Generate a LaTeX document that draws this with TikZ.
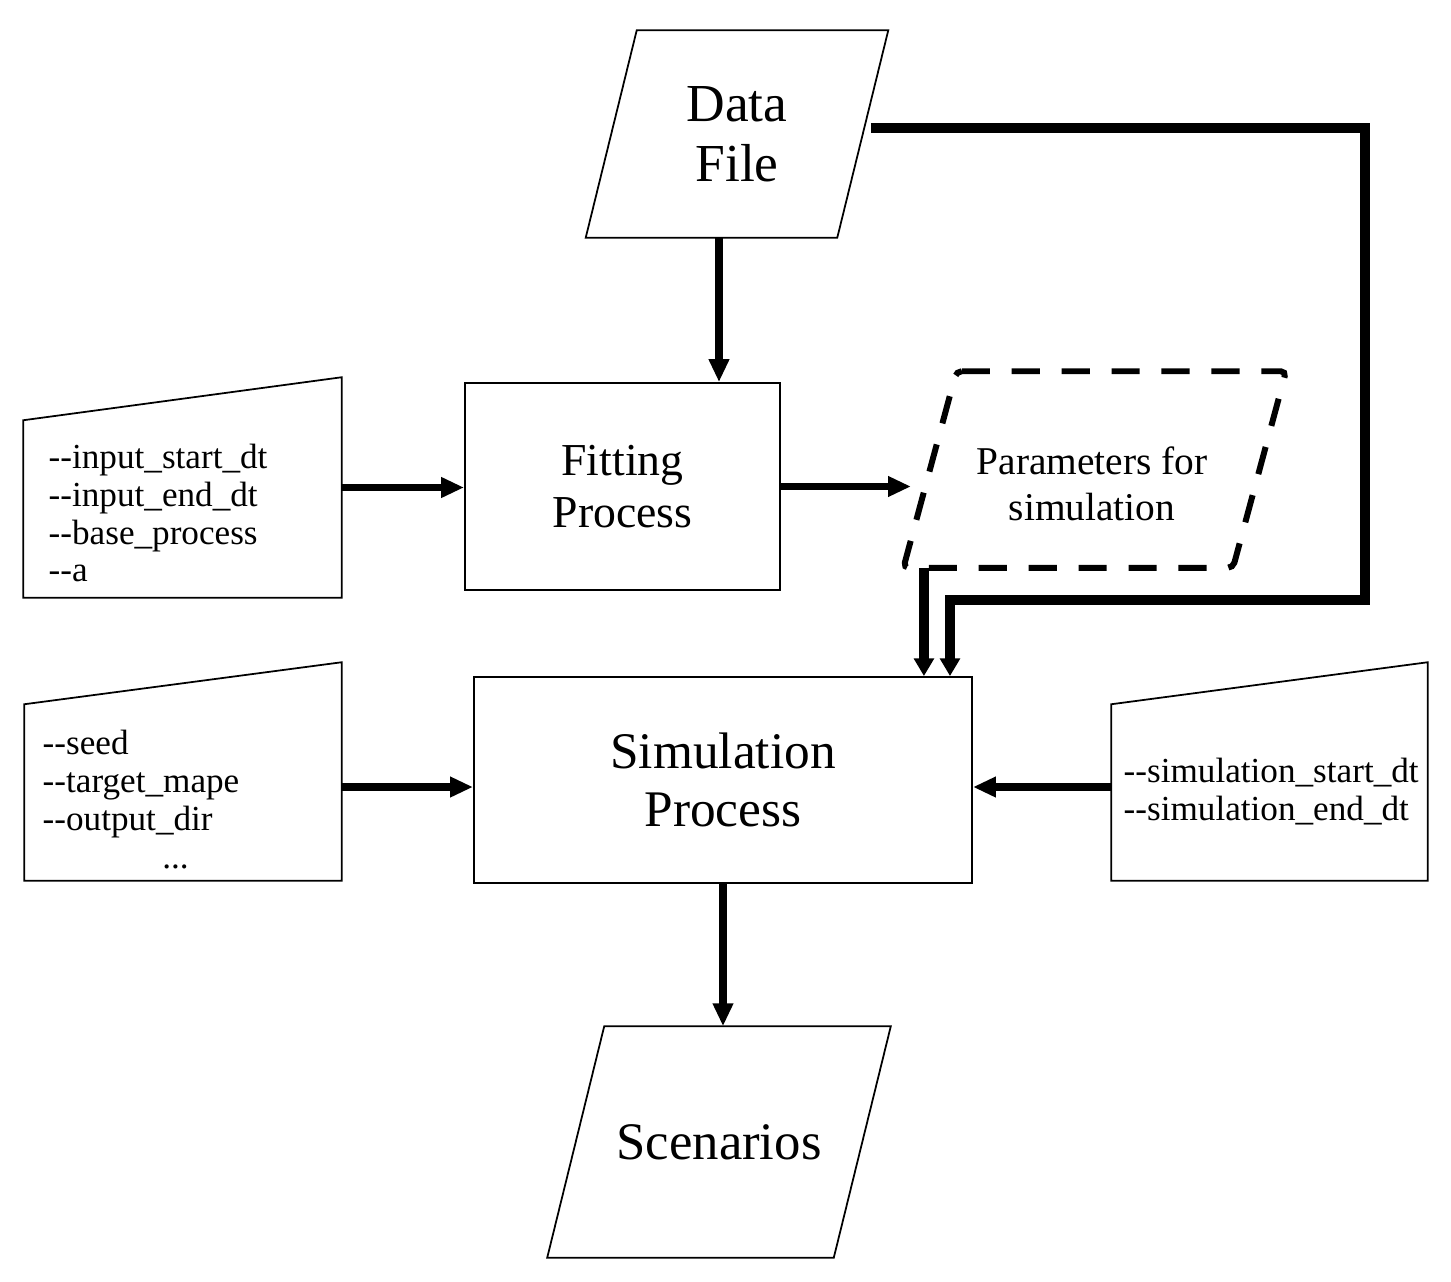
\documentclass[tikz,border=0pt]{standalone}
\usepackage{fontspec}
\setmainfont{Liberation Serif}
\usetikzlibrary{shapes.geometric,arrows.meta,positioning,calc}

% two plain hyphens, no en-dash ligature
\newcommand{\cliopt}[1]{-\kern0pt-#1}

\tikzset{
  process/.style={draw, line width=0.5pt, rectangle, align=center},
  dataframe/.style={rectangle, inner sep=0pt, align=center},
  dataline/.style={line width=0.5pt},
  paramline/.style={line width=1.7pt, dash pattern=on 8pt off 6.2pt, rounded corners=1.5pt},
  argsframe/.style={rectangle, inner sep=0pt},
  argtext/.style={font=\fontsize{10}{10.8}\selectfont, align=left, inner sep=0pt},
  flow/.style={line width=2pt, -{Triangle[length=6.5pt,width=5.5pt]}},
  bus/.style={line width=2.6pt, -{Triangle[length=5pt,width=5.5pt]}},
}

\begin{document}
\begin{tikzpicture}[x=0.01cm, y=-0.01cm]
\useasboundingbox (0,0) rectangle (1451,1282);

% main blocks
\node[dataframe, minimum width=2.5cm, minimum height=2.06cm,
      font=\fontsize{15.2}{17}\selectfont] (datafile) at (737,134) {Data\\File};
\draw[dataline] ([xshift=0.255cm]datafile.north west) -- ([xshift=0.255cm]datafile.north east)
     -- ([xshift=-0.255cm]datafile.south east) -- ([xshift=-0.255cm]datafile.south west) -- cycle;

\node[process, minimum width=3.15cm, minimum height=2.07cm,
      font=\fontsize{13}{14.8}\selectfont] (fitting) at (622.5,486.5) {Fitting\\Process};

\node[dataframe, minimum width=3.28cm, minimum height=1.95cm] (params) at (1094.75,469.5) {};
\draw[paramline] ([xshift=0.265cm]params.north west) -- ([xshift=0.265cm]params.north east)
     -- ([xshift=-0.265cm]params.south east) -- ([xshift=-0.265cm]params.south west) -- cycle;
\node[font=\fontsize{11.2}{13}\selectfont, align=center] (paramstext) at (1092,484)
     {Parameters for\\simulation};

\node[process, minimum width=4.98cm, minimum height=2.06cm,
      font=\fontsize{14.6}{16.5}\selectfont] (simulation) at (723,780) {Simulation\\Process};

\node[dataframe, minimum width=2.85cm, minimum height=2.3cm,
      font=\fontsize{15}{17}\selectfont] (scenarios) at (719,1142) {Scenarios};
\draw[dataline] ([xshift=0.285cm]scenarios.north west) -- ([xshift=0.285cm]scenarios.north east)
     -- ([xshift=-0.285cm]scenarios.south east) -- ([xshift=-0.285cm]scenarios.south west) -- cycle;

% argument boxes
\node[argsframe, minimum width=3.17cm, minimum height=2.19cm] (fitargs) at (182.5,487.5) {};
\draw[dataline] (fitargs.south west) -- (fitargs.south east) -- (fitargs.north east)
     -- ([yshift=-0.43cm]fitargs.north west) -- cycle;
\node[argtext, anchor=west] (fitargstext) at (48,513)
     {\cliopt{input\_start\_dt}\\\cliopt{input\_end\_dt}\\\cliopt{base\_process}\\\cliopt{a}};

\node[argsframe, minimum width=3.16cm, minimum height=2.17cm] (simargs) at (183,771.5) {};
\draw[dataline] (simargs.south west) -- (simargs.south east) -- (simargs.north east)
     -- ([yshift=-0.42cm]simargs.north west) -- cycle;
\node[argtext, anchor=west] (simargstext) at (42,800)
     {\cliopt{seed}\\\cliopt{target\_mape}\\\cliopt{output\_dir}\\\hspace*{34pt}...};

\node[argsframe, minimum width=3.15cm, minimum height=2.17cm] (simright) at (1269.5,771.5) {};
\draw[dataline] (simright.south west) -- (simright.south east) -- (simright.north east)
     -- ([yshift=-0.42cm]simright.north west) -- cycle;
\node[argtext, anchor=west] (simrighttext) at (1123,792)
     {\cliopt{simulation\_start\_dt}\\\cliopt{simulation\_end\_dt}};

% connectors
\coordinate (dataout) at ([xshift=-0.18cm]datafile.south);
\draw[flow] (dataout) -- (dataout |- fitting.north);
\draw[flow] (fitargs.east) -- (fitargs.east -| fitting.west);
\coordinate (paramsin) at (fitting.east -| params.west);
\draw[flow] (fitting.east) -- ([xshift=-0.19cm]paramsin);

\coordinate (paramsout) at ([xshift=-0.06cm]params.south west);
\draw[bus] (paramsout) -- (paramsout |- simulation.north);

\coordinate (busstart) at ([xshift=0.08cm, yshift=0.06cm]datafile.east);
\coordinate (busturn) at (1365,600);
\coordinate (busdrop) at (950,600);
\draw[bus] (busstart) -- (busstart -| busturn) -- (busturn) -- (busdrop)
     -- (busdrop |- simulation.north);

\coordinate (simin) at ([yshift=-0.155cm]simargs.east);
\draw[flow] (simin) -- (simin -| simulation.west);
\coordinate (simrightin) at ([yshift=-0.155cm]simright.west);
\draw[flow] (simrightin) -- (simrightin -| simulation.east);

\draw[flow] (simulation.south) -- (simulation.south |- scenarios.north);
\end{tikzpicture}
\end{document}
